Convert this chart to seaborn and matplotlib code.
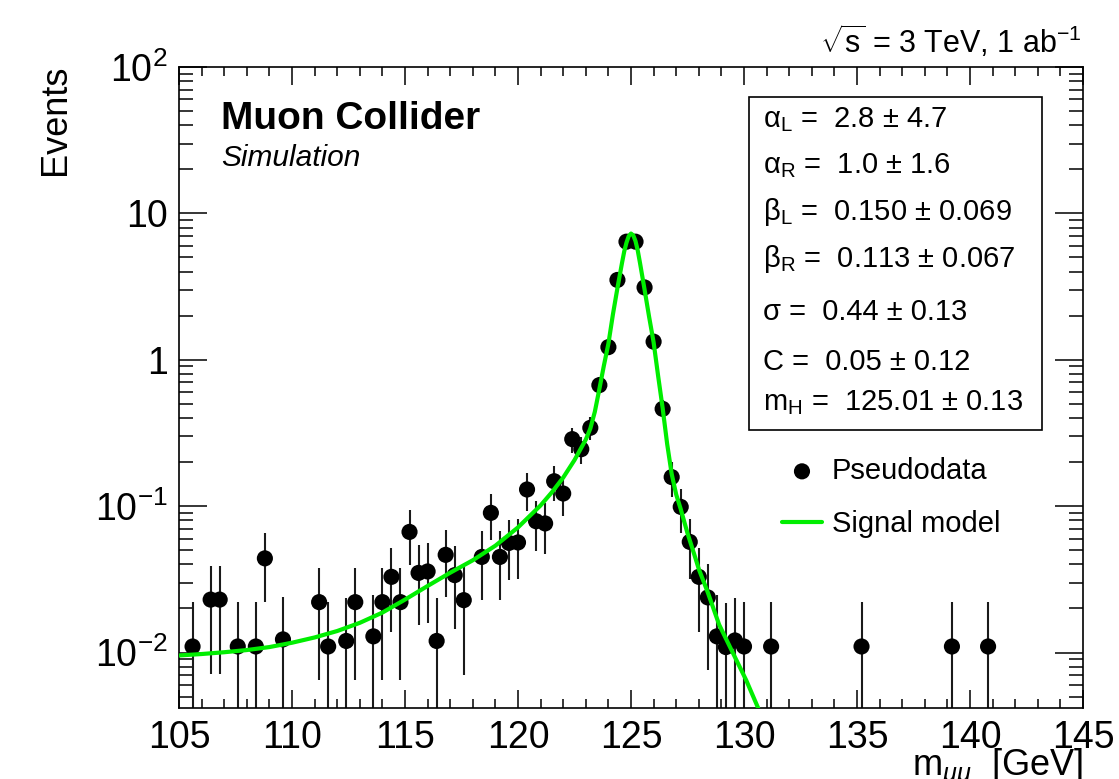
import numpy as np
import pandas as pd
import matplotlib
matplotlib.use("Agg")
import matplotlib.pyplot as plt
import matplotlib.ticker as mticker
from matplotlib.patches import Rectangle
import seaborn as sns

# ---------------- data ----------------
mass = [105.6, 106.4, 106.8, 107.6, 108.4, 108.8, 109.6, 111.2, 111.6, 112.4,
        112.8, 113.6, 114.0, 114.4, 114.8, 115.2, 115.6, 116.0, 116.4, 116.8,
        117.2, 117.6, 118.4, 118.8, 119.2, 119.6, 120.0, 120.4, 120.8, 121.2,
        121.6, 122.0, 122.4, 122.8, 123.2, 123.6, 124.0, 124.4, 124.8, 125.2,
        125.6, 126.0, 126.4, 126.8, 127.2, 127.6, 128.0, 128.4, 128.8, 129.2,
        129.6, 130.0, 131.2, 135.2, 139.2, 140.8]
events = [0.0110, 0.0230, 0.0230, 0.0110, 0.0110, 0.0440, 0.0123, 0.0221, 0.0110, 0.0120,
          0.0221, 0.0129, 0.0221, 0.0329, 0.0221, 0.0667, 0.0350, 0.0358, 0.0120, 0.0465,
          0.0338, 0.0228, 0.0450, 0.0900, 0.0450, 0.0561, 0.0565, 0.130, 0.0789, 0.0762,
          0.148, 0.122, 0.287, 0.245, 0.343, 0.671, 1.22, 3.51, 6.41, 6.41,
          3.12, 1.33, 0.462, 0.158, 0.0989, 0.0570, 0.0329, 0.0238, 0.0129, 0.0109,
          0.0121, 0.0110, 0.0110, 0.0110, 0.0110, 0.0110]
events_err = [0.0110, 0.0159, 0.0159, 0.0110, 0.0110, 0.0220, 0.0116, 0.0156, 0.0110, 0.0115,
              0.0156, 0.0119, 0.0156, 0.0190, 0.0156, 0.0271, 0.0196, 0.0198, 0.0115, 0.0226,
              0.0193, 0.0158, 0.0222, 0.0315, 0.0222, 0.0248, 0.0249, 0.0378, 0.0295, 0.0290,
              0.0403, 0.0366, 0.0562, 0.0519, 0.0614, 0.0859, 0.116, 0.196, 0.266, 0.266,
              0.185, 0.121, 0.0713, 0.0417, 0.0330, 0.0250, 0.0190, 0.0162, 0.0119, 0.0109,
              0.0115, 0.0110, 0.0110, 0.0110, 0.0110, 0.0110]

model_mass = [105.0, 106.0, 107.0, 108.0, 109.0, 110.0, 111.0, 112.0, 113.0, 114.0,
              115.0, 116.0, 117.0, 118.0, 119.0, 120.0, 121.0, 121.5, 122.0, 122.5,
              123.0, 123.2, 123.4, 123.6, 123.8, 124.0, 124.2, 124.4, 124.6, 124.7,
              124.8, 124.9, 125.0, 125.1, 125.2, 125.3, 125.4, 125.6, 125.8, 126.0,
              126.2, 126.4, 126.6, 126.8, 127.0, 127.2, 127.5, 127.8, 128.0, 128.4,
              128.9, 129.5, 130.1, 130.6, 131.0]
model_events = [0.00955, 0.00977, 0.01005, 0.0104, 0.0109, 0.01167, 0.01268, 0.01403, 0.01596, 0.01875,
                0.0230, 0.0285, 0.0351, 0.0427, 0.0537, 0.0716, 0.1012, 0.1245, 0.1567, 0.2065,
                0.285, 0.339, 0.4416, 0.631, 0.912, 1.288, 2.042, 3.09, 4.571, 5.495,
                6.31, 7.0, 7.28, 7.08, 6.46, 5.56, 4.57, 3.02, 1.97, 1.318,
                0.776, 0.468, 0.266, 0.166, 0.1202, 0.0955, 0.0653, 0.0468, 0.0372, 0.0257,
                0.0155, 0.0100, 0.00646, 0.00427, 0.00302]

x_ticks = [105, 110, 115, 120, 125, 130, 135, 140, 145]
y_ticks = [0.01, 0.1, 1, 10, 100]
y_tick_labels = [r"$10^{-2}$", r"$10^{-1}$", "1", "10", r"$10^{2}$"]

fit_lines = [r"α$_{\mathrm{L}}$ =  2.8 ± 4.7",
             r"α$_{\mathrm{R}}$ =  1.0 ± 1.6",
             r"β$_{\mathrm{L}}$ =  0.150 ± 0.069",
             r"β$_{\mathrm{R}}$ =  0.113 ± 0.067",
             r"σ =  0.44 ± 0.13",
             r"C =  0.05 ± 0.12",
             r"m$_{\mathrm{H}}$ =  125.01 ± 0.13"]

# ---------------- style ----------------
sns.set_style("ticks")
plt.rcParams["font.family"] = ["Liberation Sans", "DejaVu Sans"]
plt.rcParams["mathtext.fontset"] = "custom"
plt.rcParams["mathtext.rm"] = "Liberation Sans"
plt.rcParams["mathtext.it"] = "Liberation Sans:italic"
plt.rcParams["mathtext.bf"] = "Liberation Sans:bold"
plt.rcParams["mathtext.sf"] = "Liberation Sans"
plt.rcParams["axes.unicode_minus"] = True
plt.rcParams["text.color"] = "black"
plt.rcParams["axes.labelcolor"] = "black"
plt.rcParams["xtick.color"] = "black"
plt.rcParams["ytick.color"] = "black"

W, H = 1119, 779
fig = plt.figure(figsize=(W / 100, H / 100), dpi=100)
L, R, T, B = 179, 1083, 67, 707.7
ax = fig.add_axes([L / W, 1 - B / H, (R - L) / W, (B - T) / H])


def fx(x):
    return x / W


def fy(y):
    return 1 - y / H


data = pd.DataFrame({"mass": mass, "events": events, "err": events_err})
model = pd.DataFrame({"mass": model_mass, "events": model_events})

ev = np.array(events)
er = np.array(events_err)
lower = np.minimum(er, ev * 0.9999)
ax.errorbar(data["mass"], data["events"], yerr=[lower, er], fmt="none",
            ecolor="#1a1a1a", elinewidth=1.5, capsize=0, zorder=2)
sns.scatterplot(data=data, x="mass", y="events", ax=ax, color="black",
                s=135, edgecolor="none", linewidth=0, zorder=3,
                label="Pseudodata")
sns.lineplot(data=model, x="mass", y="events", ax=ax, color="#00ee00",
             linewidth=3.0, zorder=4, label="Signal model", sort=False)

ax.set_yscale("log")
ax.set_xlim(105, 145)
ax.set_ylim(0.0042, 100)

ax.xaxis.set_major_locator(mticker.FixedLocator(x_ticks))
ax.xaxis.set_minor_locator(mticker.MultipleLocator(1))
ax.yaxis.set_major_locator(mticker.FixedLocator(y_ticks))
ax.yaxis.set_major_formatter(mticker.FixedFormatter(y_tick_labels))
ax.yaxis.set_minor_locator(mticker.LogLocator(base=10, subs=np.arange(2, 10)))
ax.yaxis.set_minor_formatter(mticker.NullFormatter())

ax.tick_params(axis="both", which="both", direction="in", top=True, right=True,
               colors="black", labelcolor="black", width=1.1)
ax.tick_params(axis="x", which="major", length=13, pad=9, labelsize=27)
ax.tick_params(axis="x", which="minor", length=6.5)
ax.tick_params(axis="y", which="major", length=20, pad=8, labelsize=27)
ax.tick_params(axis="y", which="minor", length=10)
for sp in ax.spines.values():
    sp.set_linewidth(1.2)
    sp.set_color("black")

ax.set_xlabel("")
ax.set_ylabel("")

# axis titles
fig.text(fx(56), fy(65), "Events", rotation=90, ha="center", va="top",
         fontsize=26, color="black")
fig.text(fx(1083), fy(776), r"m$_{\mu\mu}$  [GeV]", ha="right", va="baseline",
         fontsize=26, color="black")

# labels
fig.text(fx(221), fy(129), "Muon Collider", fontsize=28, fontweight="bold",
         ha="left", va="baseline", color="black")
fig.text(fx(221), fy(166), "Simulation", fontsize=21.5, style="italic",
         ha="left", va="baseline", color="black")
fig.text(fx(1082), fy(53), r"$\sqrt{\mathrm{s}}$ = 3 TeV, 1 ab$^{-1}$", fontsize=22,
         ha="right", va="baseline", color="black")

# fit result box
box = Rectangle((fx(749), fy(430)), (1042 - 749) / W, (430 - 97) / H,
                transform=fig.transFigure, facecolor="white", edgecolor="black",
                linewidth=1.2, zorder=5)
fig.add_artist(box)
baselines = [127, 173, 220, 267, 320, 370, 410]
for txt, yb in zip(fit_lines, baselines):
    t = fig.text(fx(763), fy(yb), txt, fontsize=21, ha="left", va="baseline",
                 color="black")
    t.set_zorder(6)

# legend
h, l = ax.get_legend_handles_labels()
order = [l.index("Pseudodata"), l.index("Signal model")]
leg = ax.legend([h[i] for i in order], [l[i] for i in order],
                loc="upper left", bbox_to_anchor=(fx(782), fy(457)),
                bbox_transform=fig.transFigure, frameon=False, fontsize=21,
                borderpad=0, borderaxespad=0, handlelength=1.37,
                handletextpad=0.34, labelspacing=0.86)
for t in leg.get_texts():
    t.set_color("black")

fig.savefig("out.png", dpi=100)
